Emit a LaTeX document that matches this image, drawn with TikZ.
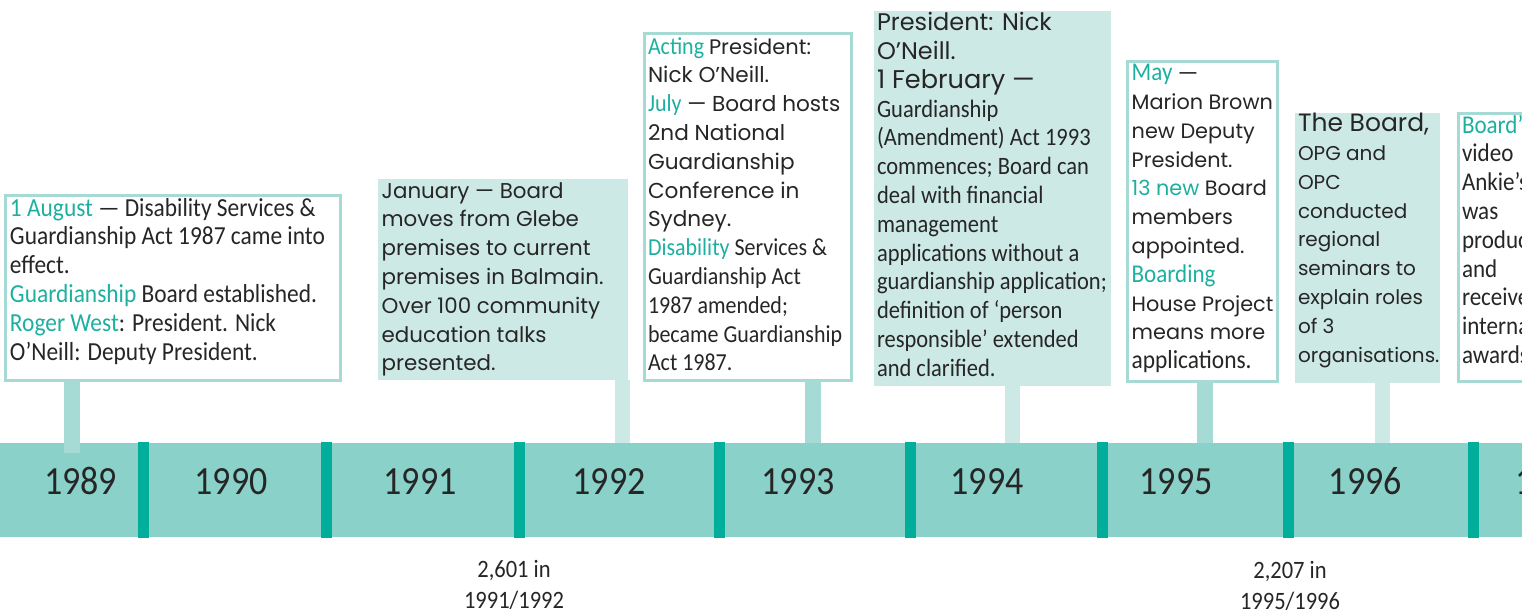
\documentclass[tikz,border=0pt]{standalone}
\usepackage{fontspec}
\usetikzlibrary{calc}
\setmainfont{Carlito}
\newfontfamily\narrowfam{Carlito}[FakeStretch=0.9]
\newfontfamily\widefam{Poppins}
\newcommand{\nfz}[1]{\narrowfam\fontsize{#1}{14.4}\selectfont}
\newcommand{\wfz}[1]{\widefam\fontsize{#1}{14.4}\selectfont}
\newcommand{\yearfont}{\narrowfam\fontsize{20}{24}\selectfont}
\definecolor{bandcol}{HTML}{8AD1C9}
\definecolor{divcol}{HTML}{00AE9B}
\definecolor{stemdark}{HTML}{A6DAD5}
\definecolor{lightfill}{HTML}{CDE9E5}
\definecolor{tealtext}{HTML}{1DB0A0}
\definecolor{darktext}{HTML}{262626}
\newcommand{\tl}[1]{{\color{tealtext}#1}}
\begin{document}
\begin{tikzpicture}[x=0.5pt,y=-0.5pt,
  wbox/.style={draw=stemdark,line width=1.4pt,fill=white,inner sep=0pt,outer sep=0pt,anchor=north west},
  fbox/.style={fill=lightfill,inner sep=0pt,outer sep=0pt,anchor=north west},
  txt/.style={inner sep=0pt,outer sep=0pt,anchor=base west,text=darktext},
  stemA/.style={draw=stemdark,line width=8pt},
  stemB/.style={draw=lightfill,line width=7.5pt},
  divider/.style={fill=divcol},
  yearlbl/.style={inner sep=0pt,anchor=base,text=darktext,font=\yearfont},
  notelbl/.style={inner sep=0pt,anchor=base,text=darktext}]
\useasboundingbox (0,0) rectangle (1522,611);
\clip (0,0) rectangle (1522,611);
% timeline band
\node[fill=bandcol,inner sep=0pt,outer sep=0pt,anchor=north west,minimum width=771pt,minimum height=47pt] (band) at (-10,443) {};
% boxes
\node[wbox,minimum width=167.6pt,minimum height=92.6pt] (b89) at (5.4,195.4) {};
\node[fbox,minimum width=125pt,minimum height=100.5pt] (b91) at (378,179) {};
\node[wbox,minimum width=103.75pt,minimum height=173.6pt] (b92) at (644.1,33.4) {};
\node[fbox,minimum width=118.35pt,minimum height=187.5pt] (b93) at (874,11) {};
\node[wbox,minimum width=75.1pt,minimum height=159.95pt] (b95) at (1127.1,61.4) {};
\node[fbox,minimum width=72.5pt,minimum height=135pt] (b96) at (1295,112.7) {};
\node[wbox,minimum width=98.6pt,minimum height=134.1pt] (b97) at (1458.1,113.1) {};
% stems
\coordinate (s89) at ($(b89.south west)+(66.6,0)$);
\coordinate (s91) at ($(b91.south west)+(244.5,0)$);
\coordinate (s92) at ($(b92.south west)+(168.9,0)$);
\coordinate (s93) at ($(b93.south west)+(138,0)$);
\coordinate (s95) at ($(b95.south west)+(77.4,0)$);
\coordinate (s96) at ($(b96.south west)+(87,0)$);
\draw[stemA,shorten >=-5pt] (s89) -- (s89 |- band.north);
\draw[stemB] (s91) -- (s91 |- band.north);
\draw[stemA] (s92) -- (s92 |- band.north);
\draw[stemB] (s93) -- (s93 |- band.north);
\draw[stemA] (s95) -- (s95 |- band.north);
\draw[stemB] (s96) -- (s96 |- band.north);
% dividers
\foreach \xx in {143,326.5,519,719,910,1102.5,1288,1473}
  \fill[divider] (\xx-5.5,442) rectangle (\xx+5.5,538);
% year labels
\node[yearlbl] (y89) at (80.7,494.3) {1989};
\node[yearlbl] (y90) at (231,494.3) {1990};
\node[yearlbl] (y91) at (420,494.3) {1991};
\node[yearlbl] (y92) at (609,494.3) {1992};
\node[yearlbl] (y93) at (798,494.3) {1993};
\node[yearlbl] (y94) at (987,494.3) {1994};
\node[yearlbl] (y95) at (1176,494.3) {1995};
\node[yearlbl] (y96) at (1365.4,494.3) {1996};
\node[yearlbl] (y97) at (1552,494.3) {1997};
% box texts
\node[txt] (t89) at (10,216) {\parbox[t]{200pt}{\raggedright\nfz{13}\leavevmode
\tl{1 August} — Disability Services \&\\
Guardianship Act 1987 came into\\
effect.\\
\tl{Guardianship} Board established.\\
\tl{Roger West}: President. Nick\\
O’Neill: Deputy President.}};
\node[txt] (t91) at (381.7,198) {\parbox[t]{200pt}{\raggedright\wfz{10.7}\leavevmode
January — Board\\
moves from Glebe\\
premises to current\\
premises in Balmain.\\
Over 100 community\\
education talks\\
presented.}};
\node[txt] (t92) at (648,54) {\parbox[t]{200pt}{\raggedright\nfz{12.2}\leavevmode
\tl{Acting} {\wfz{10.5}President:}\\
\wfz{10.8}Nick O’Neill.\\
{\nfz{12.2}\tl{July}} — Board hosts\\
2nd National\\
Guardianship\\
Conference in\\
Sydney.\\
\nfz{12.2}\tl{Disability} Services \&\\
Guardianship Act\\
1987 amended;\\
became Guardianship\\
Act 1987.}};
\node[txt] (t93) at (877,30.7) {\parbox[t]{200pt}{\raggedright\wfz{12}\leavevmode
President: Nick\\
O’Neill.\\
{\wfz{12.8}1 February —}\\
\nfz{12.5}Guardianship\\
(Amendment) Act 1993\\
commences; Board can\\
deal with financial\\
management\\
applications without a\\
guardianship application;\\
definition of ‘person\\
responsible’ extended\\
and clarified.}};
\node[txt] (t95) at (1131.7,80.7) {\parbox[t]{200pt}{\raggedright\nfz{12.8}\leavevmode
\tl{May} —\\
\wfz{10.4}Marion Brown\\
new Deputy\\
President.\\
\tl{13 new} Board\\
members\\
appointed.\\
{\nfz{12.8}\tl{Boarding}}\\
House Project\\
means more\\
\nfz{13}applications.}};
\node[txt] (t96) at (1298,131.7) {\parbox[t]{200pt}{\raggedright\wfz{10}\leavevmode
{\wfz{12.5}The Board,}\\
OPG and\\
OPC\\
conducted\\
regional\\
seminars to\\
explain roles\\
of 3\\
organisations.}};
\node[txt] (t97) at (1462,133) {\parbox[t]{200pt}{\raggedright\nfz{12.8}\leavevmode
\tl{Board’s}\\
video\\
Ankie’s\\
was\\
produced\\
and\\
received\\
international\\
awards.}};
% notes below
\node[notelbl] (n92) at (514,577) {\parbox[t]{80pt}{\centering\narrowfam\fontsize{12.5}{15.5}\selectfont 2,601 in\\1991/1992}};
\node[notelbl] (n96) at (1290,578) {\parbox[t]{80pt}{\centering\narrowfam\fontsize{12.5}{15.5}\selectfont 2,207 in\\1995/1996}};
\end{tikzpicture}
\end{document}
